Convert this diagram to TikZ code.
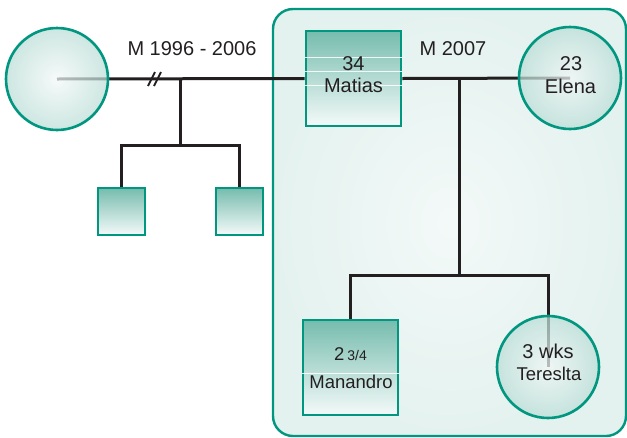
\documentclass[tikz,border=0pt]{standalone}
\usepackage{fontspec}
\setmainfont{Liberation Sans}
\definecolor{famteal}{RGB}{0,150,128}
\definecolor{boxtop}{RGB}{118,188,174}
\definecolor{boxbot}{RGB}{244,250,249}
\definecolor{circin}{RGB}{242,248,247}
\definecolor{circout}{RGB}{186,221,214}
\definecolor{panelin}{RGB}{243,249,248}
\definecolor{panelout}{RGB}{228,242,239}
\definecolor{ink}{RGB}{35,31,32}
\pgfdeclarelayer{panel}
\pgfdeclarelayer{links}
\pgfsetlayers{panel,links,main}
\tikzset{
  personbox/.style={draw=famteal, line width=2.6pt, top color=boxtop, bottom color=boxbot, inner sep=0pt},
  personcirc/.style={circle, draw=famteal, line width=2.6pt, inner color=circin, outer color=circout, fill opacity=0.72, draw opacity=1, inner sep=0pt},
  link/.style={draw=ink, line width=3pt},
  label/.style={font=\fontsize{20}{22}\selectfont, text=ink, inner sep=0pt, anchor=base},
  small/.style={font=\fontsize{18.5}{22}\selectfont, text=ink, inner sep=0pt, anchor=base},
  shine/.style={draw=white, line width=0.7pt, opacity=0.85}
}
\begin{document}
\begin{tikzpicture}[x=1pt,y=-1pt]
\useasboundingbox (0,0) rectangle (627,437);

% current household panel
\begin{pgfonlayer}{panel}
\path[draw=famteal, line width=2.4pt, rounded corners=20pt, inner color=panelin, outer color=panelout]
  (273,9) rectangle (626,436);
\end{pgfonlayer}

% people
\node[personcirc, minimum size=102pt] (ex) at (57,79) {};
\node[personbox, minimum size=95pt] (mat) at (353.5,78.5) {};
\node[personcirc, minimum size=102pt] (ele) at (570,78) {};
\node[personbox, minimum size=47pt] (kid1) at (121.5,211.5) {};
\node[personbox, minimum size=47pt] (kid2) at (239.5,211.5) {};
\node[personbox, minimum size=95pt] (man) at (350.5,367.5) {};
\node[personcirc, minimum size=102pt] (ter) at (548,367) {};

% highlight strokes in the square symbols
\draw[shine] (mat.west |- 0,57) -- (mat.east |- 0,57);
\draw[shine] (mat.west |- 0,71) -- (mat.east |- 0,71);
\draw[shine] (mat.west |- 0,85) -- (mat.east |- 0,85);
\draw[shine] (man.west |- 0,373) -- (man.east |- 0,373);

% junctions
\coordinate (m1) at (180,78);
\coordinate (s1) at (180,145);
\coordinate (m2) at (459,78);
\coordinate (s2) at (459,275);

% relationship and descent lines
\begin{pgfonlayer}{links}
\draw[link] (ex.center) -- (mat.west);
\draw[link] (mat.east) -- (ele.center);
\draw[link] (m1) -- (s1);
\draw[link] (kid1.north) |- (s1) -| (kid2.north);
\draw[link] (m2) -- (s2);
\draw[link] (man.north) |- (s2) -| (ter.center);
\end{pgfonlayer}

% divorce marks
\draw[ink, line width=2pt] (148,86) -- (155,72);
\draw[ink, line width=2pt] (154,86) -- (161,72);

% texts
\node[label] (t1) at (192,55) {M 1996 - 2006};
\node[label] (t2) at (453,55) {M 2007};
\node[label] (ma1) at (353.5,70) {34};
\node[label] (ma2) at (353.5,92) {Matias};
\node[label] (el1) at (571,70) {23};
\node[label] (el2) at (570.5,93) {Elena};
\node[small] (mn1) at (350.5,360) {2\,{\fontsize{14}{16}\selectfont 3/4}};
\node[small] (mn2) at (351,388) {Manandro};
\node[label] (te1) at (548,358) {3 wks};
\node[small] (te2) at (549,380) {Tereslta};
\end{tikzpicture}
\end{document}
